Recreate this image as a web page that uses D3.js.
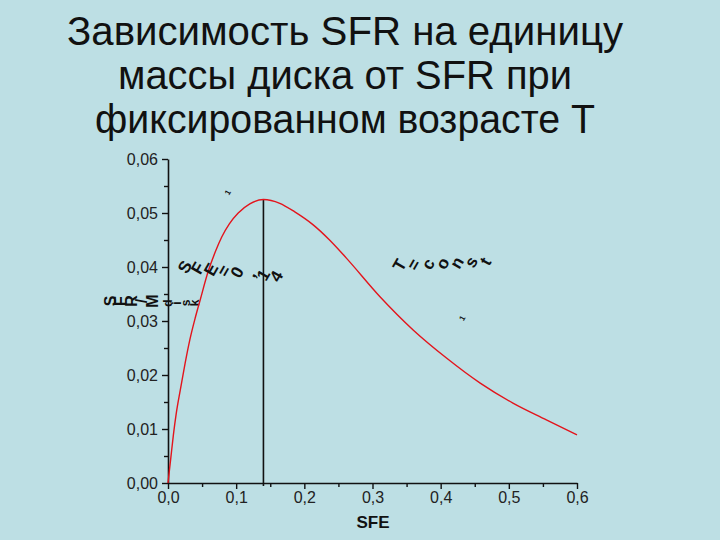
<!DOCTYPE html>
<html><head><meta charset="utf-8">
<script src="https://cdn.jsdelivr.net/npm/d3@7"></script>
<style>
html,body{margin:0;padding:0;background:#bddfe4;}
svg{display:block;font-family:"Liberation Sans",Arial,sans-serif;}
</style></head>
<body>
<svg id="chart" width="720" height="540"></svg>
<script>
// ---- data ----
const titleLines = ["Зависимость SFR на единицу", "массы диска от SFR при", "фиксированном возрасте Т"];
const sfe = [0, 0.004, 0.008, 0.012, 0.018, 0.025, 0.032, 0.040, 0.047, 0.059, 0.070, 0.079, 0.090, 0.103, 0.12, 0.14, 0.164, 0.186, 0.213, 0.237, 0.262, 0.311, 0.36, 0.409, 0.458, 0.506, 0.555, 0.6];
const sfrPerMass = [0, 0.0045, 0.0090, 0.0128, 0.0172, 0.0221, 0.0265, 0.0306, 0.0338, 0.0392, 0.0430, 0.0456, 0.0480, 0.0500, 0.0517, 0.0525, 0.0518, 0.0502, 0.0478, 0.0450, 0.0416, 0.0345, 0.0283, 0.0231, 0.0185, 0.0148, 0.0117, 0.0089];
const xTicks = [0, 0.1, 0.2, 0.3, 0.4, 0.5, 0.6];
const xMinor = [0.05, 0.15, 0.25, 0.35, 0.45, 0.55];
const yTicks = [0, 0.01, 0.02, 0.03, 0.04, 0.05, 0.06];
const yMinor = [0.005, 0.015, 0.025, 0.035, 0.045, 0.055];
const peakSFE = 0.14;
const peakValue = 0.0525;
const xLabel = "SFE";
const yLabel = "SFR/M";
const yLabelSub = "disk";
const notes = [
  {text: "SFE=0,14", x: 0.025, y: 0.0400, step: 0.0192, drop: 0.00025, size: 17},
  {text: "T=const", x: 0.340, y: 0.0403, step: 0.0210, drop: -0.00012, size: 17},
  {text: "1", x: 0.088, y: 0.0538, step: 0, drop: 0, size: 8},
  {text: "1", x: 0.432, y: 0.0305, step: 0, drop: 0, size: 8}
];

// ---- drawing ----
const svg = d3.select("#chart");
const x = d3.scaleLinear().domain([0, 0.6]).range([168, 577]);
const y = d3.scaleLinear().domain([0, 0.06]).range([483, 159]);
const fmt = d => d3.format(".2f")(d).replace(".", ",");
const fmtX = d => d3.format(".1f")(d).replace(".", ",");

// title
const titleCfg = [{b: 45, len: 556}, {b: 89, len: 454}, {b: 133, len: 500}];
svg.append("g").selectAll("text").data(titleLines).join("text")
  .attr("x", 345).attr("y", (d, i) => titleCfg[i].b)
  .attr("text-anchor", "middle")
  .attr("font-size", 41)
  .attr("fill", "#111")
  .attr("textLength", (d, i) => titleCfg[i].len)
  .attr("lengthAdjust", "spacingAndGlyphs")
  .text(d => d);

// axes
svg.append("g").attr("transform", `translate(0,${y(0)})`)
  .call(d3.axisBottom(x).tickValues(xTicks).tickFormat(fmtX).tickSize(6).tickSizeOuter(0).tickPadding(3));
svg.append("g").attr("transform", `translate(0,${y(0)})`)
  .call(d3.axisBottom(x).tickValues(xMinor).tickFormat("").tickSize(4).tickSizeOuter(0))
  .select(".domain").remove();
svg.append("g").attr("transform", `translate(${x(0)},0)`)
  .call(d3.axisLeft(y).tickValues(yTicks).tickFormat(fmt).tickSize(6).tickSizeOuter(0).tickPadding(4));
svg.append("g").attr("transform", `translate(${x(0)},0)`)
  .call(d3.axisLeft(y).tickValues(yMinor).tickFormat("").tickSize(4).tickSizeOuter(0))
  .select(".domain").remove();
svg.selectAll(".domain").attr("stroke", "#111").attr("stroke-width", 1.6);
svg.selectAll(".tick line").attr("stroke", "#111").attr("stroke-width", 1.4);
svg.selectAll(".tick text").attr("font-size", 16).attr("fill", "#222")
  .attr("font-family", "Liberation Sans, Arial, sans-serif");

// axis label
svg.append("text").attr("x", 373).attr("y", 528).attr("text-anchor", "middle")
  .attr("font-size", 17).attr("font-weight", "bold").attr("fill", "#111").text(xLabel);

// helper: glyphs rotated one by one along a row
function glyphRow(str, x0, y0, step, drop, angle, size, weight) {
  const g = svg.append("g");
  [...str].forEach((c, i) => {
    const cx = x0 + i * step, cy = y0 + i * drop;
    g.append("text").attr("x", 0).attr("y", 0)
      .attr("transform", `translate(${cx},${cy}) rotate(${angle})`)
      .attr("text-anchor", "middle").attr("dominant-baseline", "central")
      .attr("font-size", size).attr("font-weight", weight).attr("fill", "#111")
      .text(c);
  });
}

// y axis label (rotated glyphs in a row)
glyphRow(yLabel, 110, 301, 10.5, 0, -90, 16, "bold");
glyphRow(yLabelSub, 168, 303, 9, 0, -90, 12, "bold");

// vertical line at peak
svg.append("line")
  .attr("x1", x(peakSFE)).attr("x2", x(peakSFE))
  .attr("y1", y(0) + 3).attr("y2", y(peakValue))
  .attr("stroke", "#111").attr("stroke-width", 1.6);

// curve
svg.append("path").datum(sfe.map((v, i) => [v, sfrPerMass[i]]))
  .attr("fill", "none").attr("stroke", "#e3141c").attr("stroke-width", 1.4)
  .attr("d", d3.line().x(d => x(d[0])).y(d => y(d[1])).curve(d3.curveMonotoneX));

// annotations (rotated glyphs)
notes.forEach(n => {
  glyphRow(n.text, x(n.x), y(n.y), x(n.step) - x(0), y(0) - y(n.drop), -60, n.size, "bold");
});
</script>
</body></html>
